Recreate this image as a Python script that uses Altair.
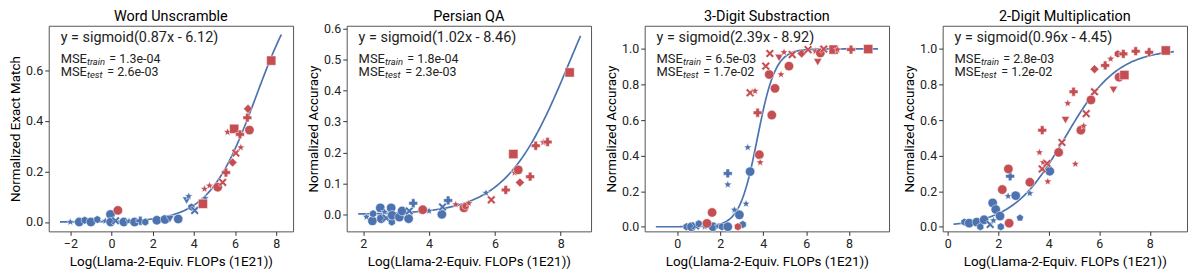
import altair as alt
import numpy as np
import pandas as pd

FONT = "Roboto"
BLUE = "#4C72B0"
RED = "#C44E52"

titles = ["Word Unscramble", "Persian QA", "3-Digit Substraction", "2-Digit Multiplication"]
y_titles = ["Normalized Exact Match", "Normalized Accuracy", "Normalized Accuracy", "Normalized Accuracy"]
x_title = "Log(Llama-2-Equiv. FLOPs (1E21))"
fit_a = [0.87, 1.02, 2.39, 0.96]
fit_b = [-6.12, -8.46, -8.92, -4.45]
mse_train = ["1.3e-04", "1.8e-04", "6.5e-03", "2.8e-03"]
mse_test = ["2.6e-03", "2.3e-03", "1.7e-02", "1.2e-02"]
curve_x0 = [-2.5, 1.85, -1.0, 0.23]
curve_x1 = [8.25, 8.6, 9.35, 8.95]
x_domains = [[-3.05, 8.82], [1.5, 8.92], [-1.52, 9.86], [-0.2, 9.47]]
y_domains = [[-0.037, 0.777], [-0.055, 0.61], [-0.026, 1.13], [-0.026, 1.13]]
x_ticks = [[-2, 0, 2, 4, 6, 8], [2, 4, 6, 8], [0, 2, 4, 6, 8], [0, 2, 4, 6, 8]]
y_ticks = [[0, 0.2, 0.4, 0.6], [0, 0.1, 0.2, 0.3, 0.4, 0.5, 0.6],
           [0, 0.2, 0.4, 0.6, 0.8, 1.0], [0, 0.2, 0.4, 0.6, 0.8, 1.0]]

# ---- Panel 1: Word Unscramble ----
p1_blue_x = [-2.0, -1.57, -1.3, -1.0, -0.69, -0.3, -0.05, -0.04, 0.2, 0.6, 0.85, 1.12, 1.4, 1.64,
             2.2, 2.6, 2.84, 3.24, 3.65, 3.75, 3.88, 4.04, 4.44, 4.55]
p1_blue_y = [0.0, 0.0, 0.007, 0.0, 0.01, 0.004, 0.030, 0.0, 0.005, 0.0, 0.003, 0.0, 0.005, 0.0,
             0.007, 0.01, 0.012, 0.012, 0.085, 0.102, 0.059, 0.046, 0.079, 0.094]
p1_blue_m = ["star", "circle", "hex", "circle", "hex", "star", "circle", "circle", "x", "circle", "star",
             "circle", "plus", "hex", "circle", "circle", "tri", "circle", "tri", "star", "hex", "x", "hex", "star"]
p1_red_x = [0.31, 4.44, 4.52, 4.76, 5.16, 5.4, 5.56, 5.88, 6.04, 6.28, 5.64, 5.96, 6.24, 6.7, 6.6, 6.63, 7.76]
p1_red_y = [0.046, 0.072, 0.131, 0.144, 0.138, 0.157, 0.196, 0.236, 0.273, 0.295, 0.356, 0.369, 0.347,
            0.364, 0.413, 0.448, 0.639]
p1_red_m = ["circle", "square", "star", "star", "circle", "x", "plus", "diamond", "x", "star", "star",
            "square", "plus", "circle", "plus", "diamond", "square"]

# ---- Panel 2: Persian QA ----
p2_blue_x = [2.1, 2.28, 2.3, 2.52, 2.55, 2.65, 2.7, 2.85, 2.87, 2.88, 3.1, 3.18, 3.38, 3.4, 3.52,
             3.76, 4.0, 4.39, 4.41, 4.58, 5.73]
p2_blue_y = [-0.008, -0.021, 0.002, 0.021, -0.014, 0.008, -0.012, 0.021, -0.025, -0.003, -0.009, 0.011,
             -0.014, 0.011, 0.036, 0.011, 0.011, 0.0, 0.024, 0.045, 0.069]
p2_blue_m = ["star", "circle", "hex", "circle", "circle", "star", "x", "circle", "hex", "circle", "circle",
             "circle", "circle", "x", "plus", "star", "star", "circle", "x", "plus", "star"]
p2_red_x = [3.81, 4.81, 5.06, 5.11, 5.21, 5.89, 6.33, 6.56, 6.6, 6.71, 6.76, 7.07, 7.24, 7.47, 7.6, 8.27]
p2_red_y = [0.015, 0.032, 0.021, 0.027, 0.036, 0.047, 0.079, 0.195, 0.135, 0.144, 0.103, 0.122, 0.222,
            0.233, 0.234, 0.459]
p2_red_m = ["circle", "star", "circle", "hex", "star", "x", "plus", "square", "star", "circle", "diamond",
            "plus", "plus", "star", "plus", "square"]

# ---- Panel 3: 3-Digit Substraction ----
p3_blue_x = [0.43, 0.66, 0.85, 1.0, 1.28, 1.66, 1.9, 2.08, 2.35, 2.35, 2.35, 2.66, 2.89, 3.05, 3.2, 3.39, 3.28]
p3_blue_y = [0.0, 0.0, 0.005, 0.017, 0.0, 0.0, 0.003, 0.0, 0.0, 0.30, 0.237, 0.095, 0.067, 0.013, 0.129,
             0.31, 0.446]
p3_blue_m = ["hex", "circle", "x", "hex", "star", "circle", "star", "hex", "circle", "plus", "star", "star",
             "circle", "hex", "star", "circle", "star"]
p3_red_x = [1.38, 1.62, 2.82, 3.82, 3.86, 3.74, 3.39, 3.62, 4.4, 4.55, 4.28, 4.12, 4.83, 5.2, 4.31, 4.74,
            4.97, 5.35, 5.79, 6.09, 6.43, 6.66, 6.54, 6.82, 7.28, 7.46, 8.09, 8.89]
p3_red_y = [0.019, 0.08, 0.0, 0.405, 0.362, 0.641, 0.753, 0.763, 0.628, 0.778, 0.856, 0.903, 0.856, 0.903,
            0.974, 0.949, 0.981, 0.968, 0.974, 0.996, 0.987, 0.977, 0.925, 0.999, 0.996, 0.996, 0.996, 0.999]
p3_red_m = ["circle", "circle", "hex", "circle", "star", "plus", "x", "star", "circle", "circle", "circle",
            "x", "star", "circle", "x", "tri", "star", "x", "diamond", "x", "star", "circle", "tri", "x",
            "square", "star", "plus", "square"]

# ---- Panel 4: 2-Digit Multiplication ----
p4_blue_x = [0.66, 0.85, 1.15, 1.29, 1.44, 1.68, 1.78, 1.9, 1.81, 2.07, 2.1, 2.47, 2.39, 2.69, 2.86, 3.25, 4.04]
p4_blue_y = [0.026, 0.02, 0.026, 0.0, 0.039, 0.013, 0.134, 0.097, 0.035, 0.06, 0.0, 0.284, 0.172, 0.175,
             0.05, 0.188, 0.312]
p4_blue_m = ["hex", "circle", "circle", "hex", "circle", "x", "circle", "circle", "star", "circle", "hex",
             "plus", "star", "circle", "pent", "star", "circle"]
p4_red_x = [2.16, 2.4, 2.43, 3.25, 3.63, 3.74, 3.78, 3.74, 3.96, 3.93, 4.39, 4.52, 4.75, 4.66, 4.98, 5.05,
            5.27, 5.38, 5.48, 5.67, 5.81, 5.81, 6.23, 6.45, 6.73, 6.95, 6.78, 6.99, 6.56, 7.44, 7.97, 8.63]
p4_red_y = [0.209, 0.325, 0.02, 0.25, 0.418, 0.543, 0.362, 0.325, 0.254, 0.356, 0.418, 0.474, 0.694, 0.6,
            0.759, 0.353, 0.543, 0.567, 0.636, 0.713, 0.759, 0.886, 0.907, 0.944, 0.972, 0.972, 0.841,
            0.853, 0.769, 0.987, 0.981, 0.991]
p4_red_m = ["circle", "circle", "circle", "circle", "star", "plus", "star", "x", "star", "x", "circle", "x",
            "star", "tri", "plus", "star", "circle", "star", "x", "circle", "x", "diamond", "plus", "star",
            "hex", "plus", "circle", "square", "tri", "plus", "plus", "square"]

blue_x = [p1_blue_x, p2_blue_x, p3_blue_x, p4_blue_x]
blue_y = [p1_blue_y, p2_blue_y, p3_blue_y, p4_blue_y]
blue_m = [p1_blue_m, p2_blue_m, p3_blue_m, p4_blue_m]
red_x = [p1_red_x, p2_red_x, p3_red_x, p4_red_x]
red_y = [p1_red_y, p2_red_y, p3_red_y, p4_red_y]
red_m = [p1_red_m, p2_red_m, p3_red_m, p4_red_m]

# marker styles
kinds = ["circle", "square", "diamond", "plus", "x", "tri", "star", "hex", "pent"]
shape_paths = [
    "circle", "square", "diamond", "cross",
    "M-1,-0.6L-0.6,-1L0,-0.4L0.6,-1L1,-0.6L0.4,0L1,0.6L0.6,1L0,0.4L-0.6,1L-1,0.6L-0.4,0Z",
    "triangle-down",
    "M0,-1L0.265,-0.364L0.951,-0.309L0.428,0.139L0.588,0.809L0,0.45L-0.588,0.809L-0.428,0.139L-0.951,-0.309L-0.265,-0.364Z",
    "M0,-1L0.866,-0.5L0.866,0.5L0,1L-0.866,0.5L-0.866,-0.5Z",
    "M0,-1L0.951,-0.309L0.588,0.809L-0.588,0.809L-0.951,-0.309Z",
]
kind_sizes = [90, 60, 65, 85, 65, 75, 85, 80, 85]
title_offsets = [1, -2, 1, 1]


def panel(i):
    pts = pd.DataFrame({
        "x": blue_x[i] + red_x[i],
        "y": blue_y[i] + red_y[i],
        "grp": ["blue"] * len(blue_x[i]) + ["red"] * len(red_x[i]),
        "kind": blue_m[i] + red_m[i],
    })
    xs = np.linspace(curve_x0[i], curve_x1[i], 200)
    cur = pd.DataFrame({"x": xs, "y": 1.0 / (1.0 + np.exp(-(fit_a[i] * xs + fit_b[i])))})

    xscale = alt.Scale(domain=x_domains[i], nice=False, zero=False)
    yscale = alt.Scale(domain=y_domains[i], nice=False, zero=False)
    xaxis = alt.Axis(title=x_title, values=x_ticks[i], format="d")
    yaxis = alt.Axis(title=y_titles[i], values=y_ticks[i], format=".1f")

    line = alt.Chart(cur).mark_line(color=BLUE, strokeWidth=1.7, clip=True).encode(
        x=alt.X("x:Q", scale=xscale, axis=xaxis),
        y=alt.Y("y:Q", scale=yscale, axis=yaxis),
    )
    points = alt.Chart(pts).mark_point(filled=True, opacity=1, stroke="white", strokeWidth=0.5).encode(
        x=alt.X("x:Q", scale=xscale, axis=xaxis),
        y=alt.Y("y:Q", scale=yscale, axis=yaxis),
        fill=alt.Fill("grp:N", scale=alt.Scale(domain=["blue", "red"], range=[BLUE, RED]), legend=None),
        shape=alt.Shape("kind:N", scale=alt.Scale(domain=kinds, range=shape_paths), legend=None),
        size=alt.Size("kind:N", scale=alt.Scale(domain=kinds, range=kind_sizes), legend=None),
    )

    one = pd.DataFrame({"a": [0]})

    def label(text, x, y, fs, italic=False):
        kw = dict(font=FONT, color="#222", align="left", baseline="middle", fontSize=fs)
        if italic:
            kw["fontStyle"] = "italic"
        return alt.Chart(one).mark_text(**kw).encode(
            x=alt.value(x), y=alt.value(y), text=alt.value(text), size=alt.value(fs))

    t_fit = label(f"y = sigmoid({fit_a[i]:.2f}x - {abs(fit_b[i]):.2f})", 12, 12, 14.5)
    t_mse1 = label("MSE", 12, 33, 13)
    t_sub1 = label("train", 38.5, 36, 9.5, italic=True)
    t_val1 = label(f"= {mse_train[i]}", 61, 33, 12.5)
    t_mse2 = label("MSE", 12, 46.5, 13)
    t_sub2 = label("test", 38.5, 49.5, 9.5, italic=True)
    t_val2 = label(f"= {mse_test[i]}", 59, 46.5, 12.5)

    return alt.layer(line, points, t_fit, t_mse1, t_sub1, t_val1, t_mse2, t_sub2, t_val2).properties(
        width=246, height=207,
        title=alt.TitleParams(titles[i], font=FONT, fontSize=14.5, fontWeight="normal", color="black",
                              offset=title_offsets[i]),
    )


chart = alt.hconcat(*[panel(i) for i in range(4)], spacing=12).properties(
    padding={"left": 0, "top": 0, "right": 0, "bottom": 0}
).configure_view(
    stroke="#555", strokeWidth=1
).configure_axis(
    domain=False, grid=False, tickColor="#333", tickSize=4, labelPadding=2,
    labelFont=FONT, titleFont=FONT, labelFontSize=12.5, titleFontSize=13.5,
    labelColor="#222", titleColor="black", titleFontWeight="normal",
).configure_axisY(titlePadding=3).configure_axisX(titlePadding=5)

chart.save("out.html", embed_options={"renderer": "svg", "actions": False})
